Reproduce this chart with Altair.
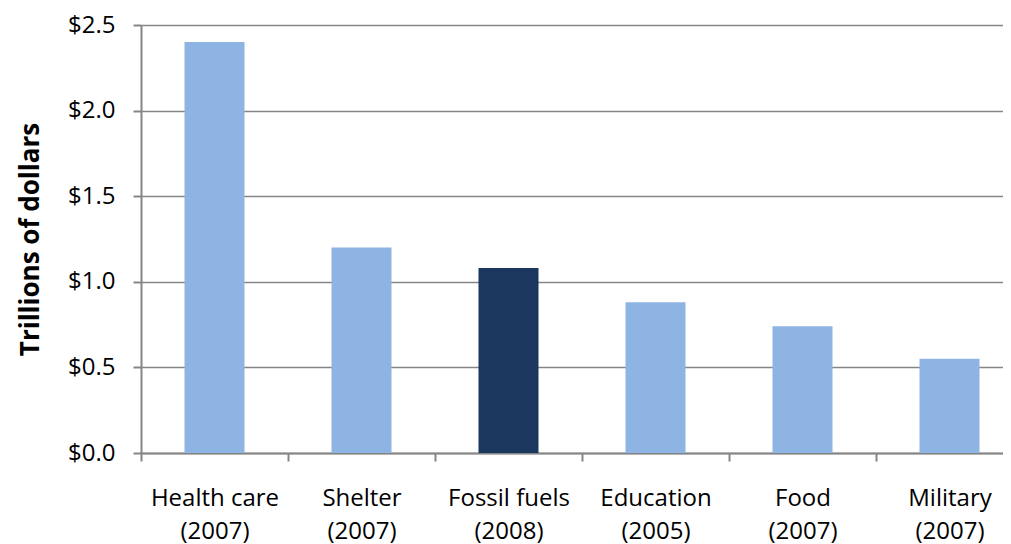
import altair as alt
import pandas as pd

categories = ["Health care\n(2007)", "Shelter\n(2007)", "Fossil fuels\n(2008)",
              "Education\n(2005)", "Food\n(2007)", "Military\n(2007)"]
values = [2.40, 1.20, 1.08, 0.88, 0.74, 0.55]
highlight = [False, False, True, False, False, False]

df = pd.DataFrame({"cat": categories, "val": values, "hl": highlight})

FONT = "Open Sans"
GRAY = "#868686"

chart = alt.Chart(df).mark_bar(size=60).encode(
    x=alt.X("cat:N", sort=categories, title=None,
            scale=alt.Scale(range=[0, 882], paddingInner=0, paddingOuter=0),
            axis=alt.Axis(labelExpr="isValid(datum.value) ? split(datum.value, '\\n') : ''",
                          labelAngle=0,
                          labelFontSize=24, labelFont=FONT, labelColor="#000000",
                          labelPadding=25, labelLineHeight=33,
                          tickColor=GRAY, tickSize=8, tickWidth=2, tickBand="extent",
                          domainColor=GRAY, domainWidth=2, grid=False)),
    y=alt.Y("val:Q", title="Trillions of dollars",
            scale=alt.Scale(domain=[0, 2.5], nice=False),
            axis=alt.Axis(values=[0, 0.5, 1.0, 1.5, 2.0, 2.5], format="$.1f",
                          labelFontSize=24, labelFont=FONT, labelColor="#000000",
                          labelPadding=18, tickColor=GRAY, tickSize=8, tickWidth=2,
                          domainColor=GRAY, domainWidth=2,
                          gridColor=GRAY, gridWidth=1.5,
                          titleFont=FONT, titleFontSize=26, titleFontWeight="bold",
                          titleColor="#000000", titlePadding=24)),
    color=alt.condition(alt.datum.hl, alt.value("#1B375D"), alt.value("#8EB4E3")),
).properties(
    width=862, height=428,
    autosize=alt.AutoSizeParams(type="none"),
    padding={"left": 133, "top": 17, "right": 0, "bottom": 91},
).configure_view(stroke=None)

chart.save("out.html", embed_options={"renderer": "svg", "actions": False})
